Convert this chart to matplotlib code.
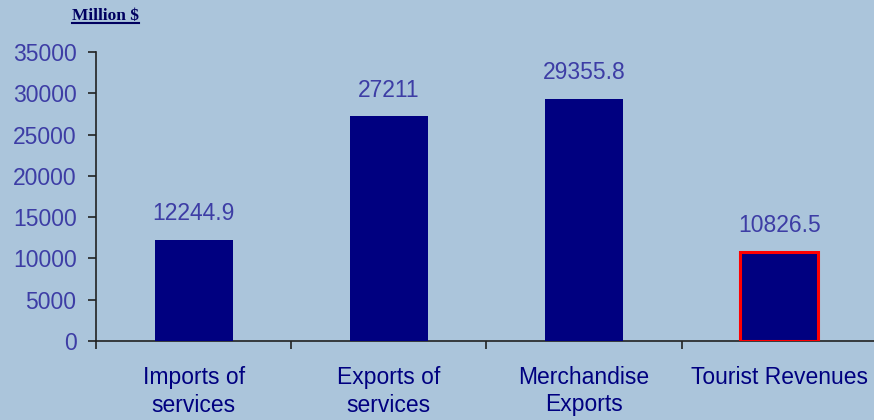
import numpy as np
import matplotlib
matplotlib.use("Agg")
import matplotlib.pyplot as plt
from matplotlib.lines import Line2D

categories = ["Imports of\nservices", "Exports of\nservices", "Merchandise\nExports", "Tourist Revenues"]
values = [12244.9, 27211, 29355.8, 10826.5]
value_labels = ["12244.9", "27211", "29355.8", "10826.5"]
yticks = [0, 5000, 10000, 15000, 20000, 25000, 30000, 35000]

plt.rcParams["font.family"] = ["Liberation Sans", "DejaVu Sans"]

bg = "#abc5db"
navy = "#000080"
label_blue = "#3d3da5"

fig = plt.figure(figsize=(8.74, 4.2), dpi=100, facecolor=bg)
ax = fig.add_axes([96 / 874, 1 - 341 / 420, 781 / 874, 289 / 420])
ax.set_facecolor("none")

x = np.arange(len(categories))
bars = ax.bar(x, values, width=0.4, color=navy, zorder=3)
# highlight the last bar
bars[-1].set_edgecolor("#ff0000")
bars[-1].set_linewidth(2.2)

for xi, v, lab in zip(x, values, value_labels):
    ax.annotate(lab, (xi, v), xytext=(0, 10.5), textcoords="offset points",
                ha="center", va="bottom", fontsize=16.5, color=label_blue)

ax.set_xlim(-0.5, len(categories) - 0.5)
ax.set_ylim(0, 35000)
ax.set_yticks(yticks)
ax.set_yticklabels([str(t) for t in yticks])

ax.set_xticks(x)
ax.set_xticklabels(categories, linespacing=1.25)
ax.set_xticks(np.arange(len(categories) + 1) - 0.5, minor=True)
ax.tick_params(axis="x", which="major", length=0, pad=18, labelsize=16.5, labelcolor=navy)
ax.tick_params(axis="x", which="minor", length=6, width=1.2, color="#222222", direction="out")
ax.tick_params(axis="y", length=6, width=1.2, color="#222222", pad=8,
               labelsize=16.5, labelcolor=label_blue)

for s in ["top", "right"]:
    ax.spines[s].set_visible(False)
for s in ["left", "bottom"]:
    ax.spines[s].set_color("#222222")
    ax.spines[s].set_linewidth(1.2)

t = fig.text(105 / 874, 1 - 16 / 420, "Million $", ha="center", va="center",
             fontsize=12.5, fontweight="bold", color="#000060",
             family=["Liberation Serif", "DejaVu Serif"])
fig.canvas.draw()
bb = t.get_window_extent().transformed(fig.transFigure.inverted())
fig.add_artist(Line2D([bb.x0, bb.x1], [bb.y0 + 0.003, bb.y0 + 0.003],
                      transform=fig.transFigure, color="#000060", linewidth=1.5))

fig.savefig("out.png", dpi=100, facecolor=bg)
